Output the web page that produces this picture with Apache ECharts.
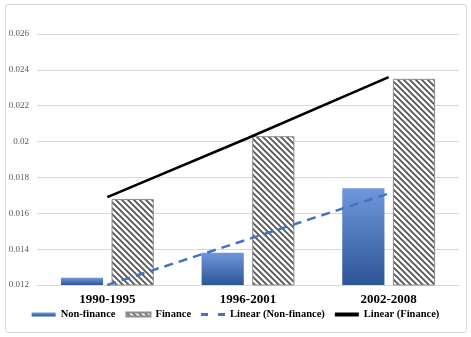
<!DOCTYPE html>
<html>
<head>
<meta charset="utf-8">
<script src="https://cdn.jsdelivr.net/npm/echarts@6/dist/echarts.min.js"></script>
<style>
    html, body { margin: 0; padding: 0; background: #fff; }
    #frame { position: absolute; left: 5px; top: 4px; width: 460px; height: 327px; border: 1px solid #d9d9d9; border-radius: 3px; }
    #chart { position: absolute; left: 0; top: 0; width: 471px; height: 337px; }
</style>
</head>
<body>
<div id="frame"></div>
<div id="chart"></div>
<script>
const periods = ['1990-1995', '1996-2001', '2002-2008'];
const nonFinance = [0.0124, 0.0138, 0.0174];
const finance = [0.0168, 0.0203, 0.0235];
const linearNonFinance = [0.0120, 0.01455, 0.0171];
const linearFinance = [0.0169, 0.0202, 0.0236];

function makeHatch() {
    const c = document.createElement('canvas');
    c.width = 6;
    c.height = 6;
    const ctx = c.getContext('2d');
    ctx.fillStyle = '#fff';
    ctx.fillRect(0, 0, 6, 6);
    ctx.strokeStyle = '#555';
    ctx.lineWidth = 1.8;
    ctx.beginPath();
    ctx.moveTo(-1, -1); ctx.lineTo(7, 7);
    ctx.moveTo(-4, 2); ctx.lineTo(4, 10);
    ctx.moveTo(2, -4); ctx.lineTo(10, 4);
    ctx.stroke();
    return c;
}

const serif = '"Liberation Serif", "Times New Roman", serif';
const chart = echarts.init(document.getElementById('chart'));

chart.setOption({
    animation: false,
    grid: { left: 37, right: 12, top: 34, bottom: 52 },
    xAxis: {
        type: 'category',
        data: periods,
        axisTick: { show: false },
        axisLine: { lineStyle: { color: '#d9d9d9' } },
        axisLabel: { fontFamily: serif, fontWeight: 'bold', fontSize: 13, color: '#000', margin: 8 }
    },
    yAxis: {
        type: 'value',
        min: 0.012,
        max: 0.026,
        interval: 0.002,
        axisLine: { show: false },
        axisTick: { show: false },
        splitLine: { lineStyle: { color: '#d9d9d9' } },
        axisLabel: {
            fontFamily: serif, fontSize: 9, color: '#595959', margin: 8,
            formatter: (v) => String(parseFloat(v.toFixed(3)))
        }
    },
    legend: {
        bottom: 12,
        left: 'center',
        itemGap: 10,
        itemWidth: 24,
        itemHeight: 4,
        textStyle: { fontFamily: serif, fontWeight: 'bold', fontSize: 10.5, color: '#000' },
        data: [
            { name: 'Non-finance', icon: 'rect' },
            { name: 'Finance', icon: 'rect' },
            { name: 'Linear (Non-finance)', icon: 'path://M0,0h7v3h-7z M17,0h7v3h-7z' },
            { name: 'Linear (Finance)', icon: 'rect' }
        ]
    },
    series: [
        {
            name: 'Non-finance',
            type: 'bar',
            data: nonFinance,
            barWidth: '30%',
            barGap: '20%',
            itemStyle: {
                color: new echarts.graphic.LinearGradient(0, 0, 0, 1, [
                    { offset: 0, color: '#6f98dc' },
                    { offset: 1, color: '#2d5596' }
                ])
            }
        },
        {
            name: 'Finance',
            type: 'bar',
            data: finance,
            barWidth: '30%',
            itemStyle: {
                color: { image: makeHatch(), repeat: 'repeat' },
                borderColor: '#8c8c8c',
                borderWidth: 1
            }
        },
        {
            name: 'Linear (Non-finance)',
            type: 'line',
            data: linearNonFinance,
            symbol: 'none',
            lineStyle: { color: '#4472c4', width: 2.5, type: [9, 6] },
            itemStyle: { color: '#4472c4' }
        },
        {
            name: 'Linear (Finance)',
            type: 'line',
            data: linearFinance,
            symbol: 'none',
            lineStyle: { color: '#000', width: 2.5 },
            itemStyle: { color: '#000' }
        }
    ]
});

window.addEventListener('resize', () => chart.resize());
</script>
</body>
</html>
